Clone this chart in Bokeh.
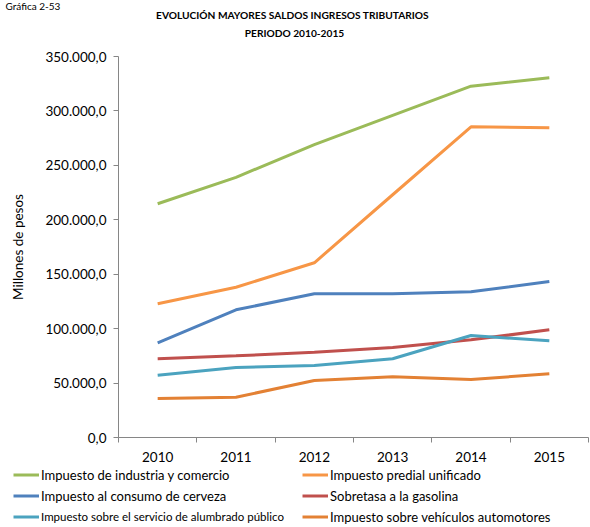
from bokeh.plotting import figure
from bokeh.layouts import column, row
from bokeh.models import Range1d, FixedTicker, Label, Legend, LegendItem
from bokeh.embed import file_html
from bokeh.resources import INLINE

years = [2010, 2011, 2012, 2013, 2014, 2015]
industria = [214700, 239000, 269000, 296000, 322700, 330400]
predial = [122800, 138000, 160500, 223000, 285400, 284500]
cerveza = [87000, 117300, 132000, 132000, 133800, 143300]
gasolina = [72300, 75000, 78400, 82700, 89700, 98900]
alumbrado = [57200, 64300, 66100, 72300, 93700, 88800]
vehiculos = [35800, 37000, 52400, 55800, 53300, 58500]

series_names = [
    "Impuesto de industria y comercio",
    "Impuesto predial unificado",
    "Impuesto al consumo de cerveza",
    "Sobretasa a la gasolina",
    "Impuesto sobre el servicio de alumbrado público",
    "Impuesto sobre vehículos automotores",
]
series_values = [industria, predial, cerveza, gasolina, alumbrado, vehiculos]
colors = ["#9BBB59", "#F79646", "#4F81BD", "#C0504D", "#4BA3BF", "#E38134"]

y_ticks = [0, 50000, 100000, 150000, 200000, 250000, 300000, 350000]
y_tick_labels = ["0,0", "50.000,0", "100.000,0", "150.000,0", "200.000,0",
                 "250.000,0", "300.000,0", "350.000,0"]

title_1 = "EVOLUCIÓN MAYORES SALDOS INGRESOS TRIBUTARIOS"
title_2 = "PERIODO 2010-2015"
caption = "Gráfica 2-53"
y_label = "Millones de pesos"

FONT = "Lato"
W = 590


def blank_fig(h):
    f = figure(width=W, height=h, output_backend="svg", toolbar_location=None,
               x_range=Range1d(0, 1), y_range=Range1d(0, 1),
               x_axis_location=None, y_axis_location=None,
               min_border=0, min_border_left=0, min_border_right=0,
               min_border_top=0, min_border_bottom=0)
    f.outline_line_color = None
    f.grid.visible = False
    return f


# ---------- header ----------
hdr = blank_fig(44)
hdr.add_layout(Label(x=5, y=39, x_units="screen", y_units="screen", text=caption,
                     text_align="left", text_baseline="middle", text_font=FONT,
                     text_font_size="10px", text_color="#000000"))
hdr.add_layout(Label(x=292, y=29.5, x_units="screen", y_units="screen", text=title_1,
                     text_align="center", text_baseline="middle", text_font=FONT,
                     text_font_style="bold", text_font_size="10.2px",
                     text_color="#000000"))
hdr.add_layout(Label(x=294, y=11.5, x_units="screen", y_units="screen", text=title_2,
                     text_align="center", text_baseline="middle", text_font=FONT,
                     text_font_style="bold", text_font_size="10.2px",
                     text_color="#000000"))

# ---------- main chart ----------
p = figure(width=W, height=420, output_backend="svg", toolbar_location=None,
           x_range=Range1d(2009.5, 2015.5), y_range=Range1d(0, 350000),
           min_border_left=118, min_border_right=2, min_border_top=12,
           min_border_bottom=27)
p.outline_line_color = None
p.xgrid.visible = False
p.ygrid.visible = False

for vals, col in zip(series_values, colors):
    p.line(years, vals, line_color=col, line_width=3)

p.xaxis.ticker = FixedTicker(ticks=years,
                             minor_ticks=[y - 0.5 for y in years] + [years[-1] + 0.5])
p.xaxis.major_tick_out = 0
p.xaxis.major_tick_in = 0
p.xaxis.minor_tick_out = 5
p.xaxis.minor_tick_in = 0
p.xaxis.minor_tick_line_color = "#868686"
p.xaxis.axis_line_color = "#868686"
p.xaxis.major_label_text_font = FONT
p.xaxis.major_label_text_font_size = "13.5px"
p.xaxis.major_label_text_color = "#000000"
p.xaxis.major_label_standoff = 9

p.yaxis.ticker = FixedTicker(ticks=y_ticks, minor_ticks=[])
p.yaxis.major_label_overrides = {t: l for t, l in zip(y_ticks, y_tick_labels)}
p.yaxis.major_tick_out = 5
p.yaxis.major_tick_in = 0
p.yaxis.major_tick_line_color = "#868686"
p.yaxis.axis_line_color = "#868686"
p.yaxis.major_label_text_font = FONT
p.yaxis.major_label_text_font_size = "13.5px"
p.yaxis.major_label_text_color = "#000000"
p.yaxis.major_label_standoff = 7
p.yaxis.axis_label = y_label
p.yaxis.axis_label_text_font = FONT
p.yaxis.axis_label_text_font_size = "13.5px"
p.yaxis.axis_label_text_font_style = "normal"
p.yaxis.axis_label_text_color = "#000000"
p.yaxis.axis_label_standoff = 16

# ---------- legend ----------
lg = blank_fig(63)
lg_r = [lg.line(years, vals, line_color=col, line_width=3)
        for vals, col in zip(series_values, colors)]
items = [LegendItem(label=n, renderers=[r]) for n, r in zip(series_names, lg_r)]


def make_legend(its, loc, size):
    return Legend(items=its, location=loc, orientation="vertical",
                  glyph_width=26, glyph_height=21, label_height=21,
                  label_standoff=2, spacing=0, padding=0, margin=0,
                  border_line_color=None, background_fill_alpha=0,
                  label_text_font=FONT, label_text_font_size=size,
                  label_text_color="#000000")


lg.add_layout(make_legend([items[0], items[2]], (13, 21), "13px"), "center")
lg.add_layout(make_legend([items[4]], (13, 0), "11.5px"), "center")
lg.add_layout(make_legend([items[1], items[3], items[5]], (302, 0), "13px"), "center")

layout = column(row(hdr), p, row(lg), spacing=0)
open("out.html", "w").write(file_html(layout, INLINE))
